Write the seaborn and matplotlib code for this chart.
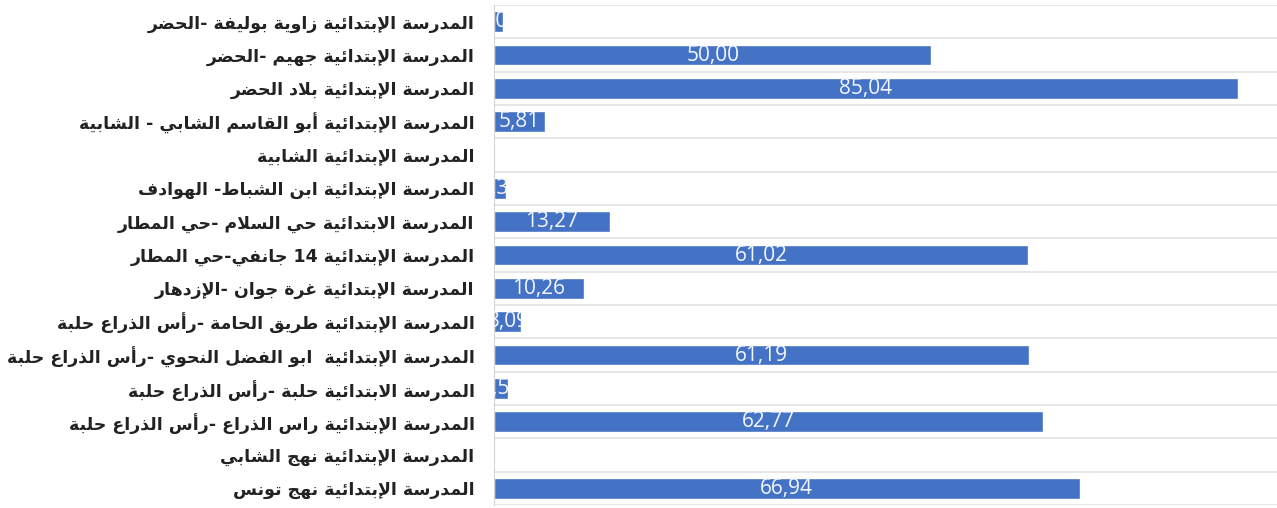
import re
import matplotlib
matplotlib.use("Agg")
import matplotlib.pyplot as plt
import seaborn as sns
import numpy as np

# Données (de haut en bas)
ecoles = [
    "المدرسة الإبتدائية زاوية بوليفة -الحضر",
    "المدرسة الإبتدائية جهيم -الحضر",
    "المدرسة الإبتدائية بلاد الحضر",
    "المدرسة الإبتدائية أبو القاسم الشابي - الشابية",
    "المدرسة الإبتدائية الشابية",
    "المدرسة الإبتدائية ابن الشباط- الهوادف",
    "المدرسة الابتدائية حي السلام -حي المطار",
    "المدرسة الإبتدائية 14 جانفي-حي المطار",
    "المدرسة الإبتدائية غرة جوان -الإزدهار",
    "المدرسة الإبتدائية طريق الحامة -رأس الذراع حلبة",
    "المدرسة الإبتدائية  ابو الفضل النحوي -رأس الذراع حلبة",
    "المدرسة الابتدائية حلبة -رأس الذراع حلبة",
    "المدرسة الإبتدائية راس الذراع -رأس الذراع حلبة",
    "المدرسة الإبتدائية نهج الشابي",
    "المدرسة الإبتدائية نهج تونس",
]
taux = [1.05, 50.00, 85.04, 5.81, 0, 1.33, 13.27, 61.02, 10.26, 3.09,
        61.19, 1.55, 62.77, 0, 66.94]

# Formes de présentation arabes: (code de base, nombre de formes)
FORMES = {
    "ء": (0xFE80, 1), "آ": (0xFE81, 2), "أ": (0xFE83, 2), "ؤ": (0xFE85, 2),
    "إ": (0xFE87, 2), "ئ": (0xFE89, 4), "ا": (0xFE8D, 2), "ب": (0xFE8F, 4),
    "ة": (0xFE93, 2), "ت": (0xFE95, 4), "ث": (0xFE99, 4), "ج": (0xFE9D, 4),
    "ح": (0xFEA1, 4), "خ": (0xFEA5, 4), "د": (0xFEA9, 2), "ذ": (0xFEAB, 2),
    "ر": (0xFEAD, 2), "ز": (0xFEAF, 2), "س": (0xFEB1, 4), "ش": (0xFEB5, 4),
    "ص": (0xFEB9, 4), "ض": (0xFEBD, 4), "ط": (0xFEC1, 4), "ظ": (0xFEC5, 4),
    "ع": (0xFEC9, 4), "غ": (0xFECD, 4), "ف": (0xFED1, 4), "ق": (0xFED5, 4),
    "ك": (0xFED9, 4), "ل": (0xFEDD, 4), "م": (0xFEE1, 4), "ن": (0xFEE5, 4),
    "ه": (0xFEE9, 4), "و": (0xFEED, 2), "ى": (0xFEEF, 2), "ي": (0xFEF1, 4),
}
LAM_ALEF = {"آ": 0xFEF5, "أ": 0xFEF7, "إ": 0xFEF9, "ا": 0xFEFB}


def mise_en_forme(texte):
    # liaison des lettres puis inversion pour l'affichage de droite à gauche
    sortie = []
    i = 0
    while i < len(texte):
        c = texte[i]
        if c not in FORMES:
            sortie.append(c)
            i += 1
            continue
        prec = texte[i - 1] if i > 0 else ""
        lie_avant = prec in FORMES and FORMES[prec][1] == 4
        suiv = texte[i + 1] if i + 1 < len(texte) else ""
        if c == "ل" and suiv in LAM_ALEF:
            sortie.append(chr(LAM_ALEF[suiv] + (1 if lie_avant else 0)))
            i += 2
            continue
        base, n = FORMES[c]
        lie_apres = n == 4 and suiv in FORMES and FORMES[suiv][1] > 1
        if n == 1:
            forme = 0
        elif n == 2:
            forme = 1 if lie_avant else 0
        else:
            if lie_avant and lie_apres:
                forme = 3
            elif lie_avant:
                forme = 1
            elif lie_apres:
                forme = 2
            else:
                forme = 0
        sortie.append(chr(base + forme))
        i += 1
    jetons = re.findall(r"\d+|.", "".join(sortie))
    return "".join(reversed(jetons))


etiquettes = [mise_en_forme(e) for e in ecoles]

sns.set_style("white")
plt.rcParams["font.family"] = ["DejaVu Sans"]

fig, ax = plt.subplots(figsize=(12.77, 5.08), dpi=100)
fig.subplots_adjust(left=494 / 1277, right=1.0, top=1 - 5 / 508, bottom=1 - 505 / 508)

sns.barplot(x=taux, y=list(range(len(taux))), orient="h", color="#4472C4",
            width=0.62, saturation=1, ax=ax)

ax.set_xlim(0, 89.5)
ax.set_ylim(len(taux) - 0.5, -0.5)
ax.set_yticks(range(len(taux)))
ax.set_yticklabels(etiquettes, fontsize=12.5, fontweight="bold", color="#222222")
ax.tick_params(axis="y", length=0, pad=14)
ax.set_xticks([])
ax.set_xlabel("")
ax.set_ylabel("")

# lignes de séparation entre catégories
ax.set_yticks(np.arange(-0.5, len(taux), 1), minor=True)
ax.tick_params(axis="y", which="minor", length=0)
ax.grid(which="minor", axis="y", color="#e4e4e4", linewidth=1.3)
ax.grid(which="major", visible=False)
for cote in ["top", "right", "bottom"]:
    ax.spines[cote].set_visible(False)
ax.spines["left"].set_color("#d4d4d4")

# étiquettes de valeur, découpées à la barre comme dans Excel
barres = ax.containers[0]
textes = ax.bar_label(barres, labels=[f"{v:.2f}".replace(".", ",") for v in taux],
                      label_type="center", color="#f4f6ff", fontsize=15,
                      family="Open Sans")
for t, b in zip(textes, barres):
    t.set_clip_path(b)

plt.savefig("out.png", dpi=100)
